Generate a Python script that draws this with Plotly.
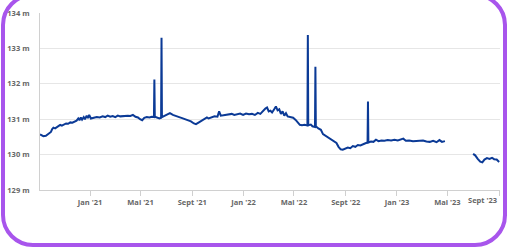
import plotly.graph_objects as go

dates = [
    "2020-09-04", "2020-09-08", "2020-09-12", "2020-09-18", "2020-09-24", "2020-09-30",
    "2020-10-03", "2020-10-06", "2020-10-10", "2020-10-14", "2020-10-18", "2020-10-22",
    "2020-10-26", "2020-10-31", "2020-11-05", "2020-11-10", "2020-11-15", "2020-11-20",
    "2020-11-25", "2020-11-30", "2020-12-04", "2020-12-07", "2020-12-10", "2020-12-13",
    "2020-12-17", "2020-12-20", "2020-12-24", "2020-12-27", "2020-12-30",
    "2021-01-03", "2021-01-10", "2021-01-17", "2021-01-24", "2021-01-31", "2021-02-06",
    "2021-02-12", "2021-02-18", "2021-02-24", "2021-03-02", "2021-03-08", "2021-03-14",
    "2021-03-20", "2021-03-26", "2021-04-01", "2021-04-07", "2021-04-13", "2021-04-19",
    "2021-04-25", "2021-04-30", "2021-05-05", "2021-05-10", "2021-05-16", "2021-05-22",
    "2021-05-28", "2021-06-02", "2021-06-03", "2021-06-04", "2021-06-10", "2021-06-15",
    "2021-06-19", "2021-06-20", "2021-06-21", "2021-06-27", "2021-07-03", "2021-07-10",
    "2021-07-17", "2021-07-24", "2021-08-01", "2021-08-08", "2021-08-15", "2021-08-22",
    "2021-08-29", "2021-09-05", "2021-09-10", "2021-09-17", "2021-09-24", "2021-10-01",
    "2021-10-06", "2021-10-10", "2021-10-17", "2021-10-24", "2021-10-31", "2021-11-04",
    "2021-11-08", "2021-11-18", "2021-11-26", "2021-12-04", "2021-12-10", "2021-12-17",
    "2021-12-24", "2021-12-31",
    "2022-01-07", "2022-01-14", "2022-01-21", "2022-01-28", "2022-02-04", "2022-02-10",
    "2022-02-17", "2022-02-22", "2022-02-26", "2022-03-02", "2022-03-06", "2022-03-10",
    "2022-03-15", "2022-03-19", "2022-03-23", "2022-03-27", "2022-03-31", "2022-04-04",
    "2022-04-08", "2022-04-12", "2022-04-16", "2022-04-22", "2022-04-29", "2022-05-05",
    "2022-05-10", "2022-05-15", "2022-05-20", "2022-05-26", "2022-06-02", "2022-06-03",
    "2022-06-04", "2022-06-10", "2022-06-14", "2022-06-20", "2022-06-21", "2022-06-22",
    "2022-06-28", "2022-07-04", "2022-07-09", "2022-07-16", "2022-07-23", "2022-07-30",
    "2022-08-05", "2022-08-10", "2022-08-15", "2022-08-20", "2022-08-25", "2022-08-31",
    "2022-09-06", "2022-09-12", "2022-09-18", "2022-09-24", "2022-09-30", "2022-10-06",
    "2022-10-12", "2022-10-18", "2022-10-23", "2022-10-24", "2022-10-25", "2022-10-31",
    "2022-11-06", "2022-11-12", "2022-11-18", "2022-11-25", "2022-12-02", "2022-12-10",
    "2022-12-18", "2022-12-26",
    "2023-01-03", "2023-01-10", "2023-01-16", "2023-01-22", "2023-01-30", "2023-02-08",
    "2023-02-16", "2023-02-24", "2023-03-04", "2023-03-12", "2023-03-20", "2023-03-28",
    "2023-04-05", "2023-04-12", "2023-04-18", "2023-04-25",
    "2023-05-30",
    "2023-07-01", "2023-07-06", "2023-07-12", "2023-07-18", "2023-07-23", "2023-07-28",
    "2023-08-03", "2023-08-09", "2023-08-15", "2023-08-20", "2023-08-26", "2023-09-01",
]

levels = [
    130.57, 130.55, 130.52, 130.53, 130.58, 130.64,
    130.72, 130.76, 130.74, 130.78, 130.80, 130.84,
    130.82, 130.86, 130.88, 130.87, 130.91, 130.90,
    130.94, 130.96, 131.02, 130.97, 131.05, 130.99,
    131.06, 131.00, 131.10, 131.03, 131.12,
    131.02, 131.04, 131.06, 131.05, 131.08, 131.06,
    131.10, 131.07, 131.09, 131.06, 131.10, 131.08,
    131.09, 131.08, 131.10, 131.09, 131.12, 131.07,
    131.05, 131.00, 130.97, 131.04, 131.06, 131.05,
    131.07, 131.06, 132.12, 131.07, 131.05, 131.02,
    131.04, 133.30, 131.06, 131.10, 131.13, 131.17,
    131.12, 131.10, 131.06, 131.03, 131.00, 130.97,
    130.94, 130.88, 130.86, 130.91, 130.96, 131.00,
    131.05, 131.02, 131.06, 131.08, 131.07, 131.22,
    131.10, 131.12, 131.13, 131.15, 131.12, 131.13,
    131.16, 131.12,
    131.16, 131.14, 131.15, 131.12, 131.18, 131.15,
    131.25, 131.30, 131.33, 131.22, 131.24, 131.19,
    131.28, 131.36, 131.25, 131.28, 131.15, 131.22,
    131.10, 131.17, 131.08, 131.06, 131.04, 130.98,
    130.92, 130.84, 130.83, 130.84, 130.82, 133.38,
    130.83, 130.85, 130.80, 130.78, 132.48, 130.80,
    130.74, 130.70, 130.58, 130.52, 130.48, 130.42,
    130.36, 130.33, 130.22, 130.15, 130.14, 130.17,
    130.20, 130.18, 130.24, 130.22, 130.27, 130.26,
    130.30, 130.32, 130.34, 131.50, 130.34, 130.37,
    130.36, 130.42, 130.38, 130.40, 130.39, 130.41,
    130.40, 130.42,
    130.40, 130.42, 130.45, 130.39, 130.40, 130.38,
    130.39, 130.38, 130.40, 130.37, 130.36, 130.39,
    130.35, 130.41, 130.36, 130.38,
    None,
    130.02, 129.98, 129.88, 129.80, 129.78, 129.86,
    129.90, 129.88, 129.91, 129.87, 129.86, 129.79,
]

x_tick_dates = ["2021-01-01", "2021-05-01", "2021-09-01", "2022-01-01", "2022-05-01",
                "2022-09-01", "2023-01-01", "2023-05-01", "2023-09-01"]
x_tick_labels = ["Jan '21", "Mai '21", "Sept '21", "Jan '22", "Mai '22",
                 "Sept '22", "Jan '23", "Mai '23", "Sept '23"]
y_ticks = [129, 130, 131, 132, 133, 134]
y_tick_labels = ["129 m", "130 m", "131 m", "132 m", "133 m", "134 m"]

W, H = 507, 247
ML, MR, MT, MB = 40, 7, 13, 57
PW, PH = W - ML - MR, H - MT - MB


def px(x, y):
    return (x - ML) / PW, (H - MB - y) / PH


def rounded_rect(x0, y0, x1, y1, r):
    def p(x, y):
        a, b = px(x, y)
        return f"{a:.5f},{b:.5f}"
    k = 0.5523 * r
    d = f"M {p(x0 + r, y0)} L {p(x1 - r, y0)} "
    d += f"C {p(x1 - r + k, y0)} {p(x1, y0 + r - k)} {p(x1, y0 + r)} "
    d += f"L {p(x1, y1 - r)} "
    d += f"C {p(x1, y1 - r + k)} {p(x1 - r + k, y1)} {p(x1 - r, y1)} "
    d += f"L {p(x0 + r, y1)} "
    d += f"C {p(x0 + r - k, y1)} {p(x0, y1 - r + k)} {p(x0, y1 - r)} "
    d += f"L {p(x0, y0 + r)} "
    d += f"C {p(x0, y0 + r - k)} {p(x0 + r - k, y0)} {p(x0 + r, y0)} Z"
    return d


fig = go.Figure()
fig.add_trace(go.Scatter(
    x=dates, y=levels, mode="lines", connectgaps=False,
    line=dict(color="#0b3a96", width=2),
    hoverinfo="skip",
))

tickfont = dict(family="Open Sans", size=7.5, color="#666666", weight="bold")

# last label does not fit centred at the edge: shown right-aligned to its tick
shown_labels = x_tick_labels[:-1] + [""]

fig.update_layout(
    width=W, height=H,
    margin=dict(l=ML, r=MR, t=MT, b=MB),
    paper_bgcolor="white", plot_bgcolor="white",
    showlegend=False,
    xaxis=dict(
        type="date", range=["2020-09-04", "2023-09-03"],
        tickvals=x_tick_dates, ticktext=shown_labels,
        showgrid=False, zeroline=False,
        showline=True, linecolor="#d0d0d0", linewidth=1,
        ticks="outside", ticklen=5, tickcolor="#d0d0d0",
        tickfont=tickfont,
    ),
    yaxis=dict(
        range=[129, 134], tickvals=y_ticks, ticktext=y_tick_labels,
        showgrid=True, gridcolor="#e6e6e6", gridwidth=1, zeroline=False,
        showline=True, linecolor="#d0d0d0", linewidth=1,
        ticks="", tickfont=tickfont, ticklabelstandoff=8,
    ),
    annotations=[dict(
        x=x_tick_dates[-1], xref="x", y=0, yref="paper",
        text=x_tick_labels[-1], showarrow=False,
        xanchor="right", yanchor="top", yshift=-3,
        font=tickfont,
    )],
    shapes=[dict(
        type="path", xref="paper", yref="paper",
        path=rounded_rect(3, -5, 505, 245, 30),
        line=dict(color="#a855ec", width=4),
        layer="above",
    )],
)

fig.write_html(
    "out.html",
    config={"displayModeBar": False},
    post_script="document.body.style.margin='0';document.body.style.overflow='hidden';",
)
